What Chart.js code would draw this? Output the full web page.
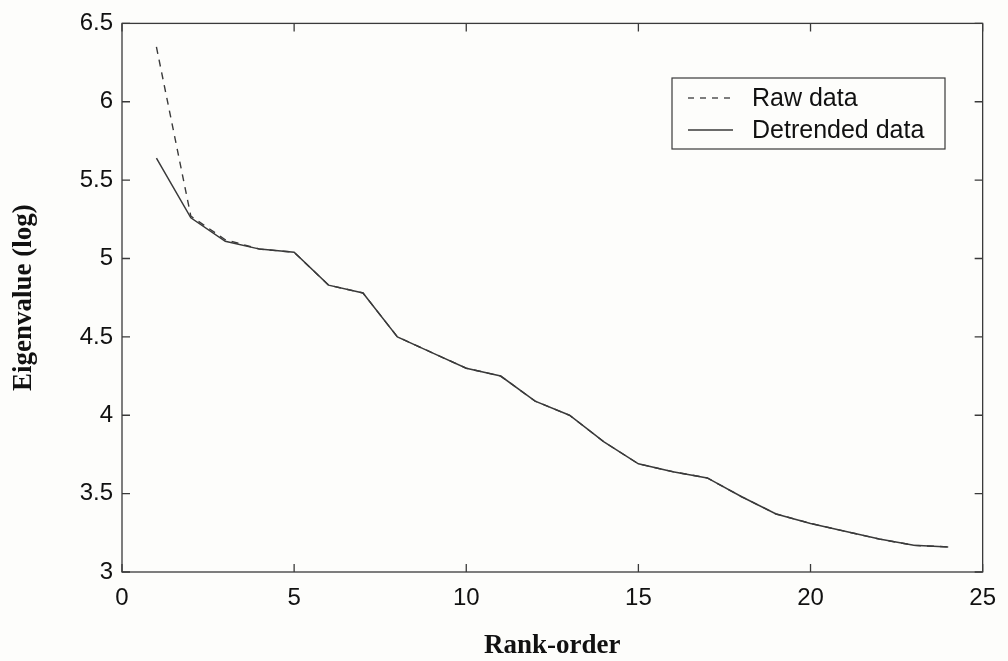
<!DOCTYPE html>
<html>
<head>
<meta charset="utf-8">
<script src="https://cdn.jsdelivr.net/npm/chart.js@4"></script>
<style>
  html, body { margin: 0; padding: 0; background: #fdfdfb; }
  #wrap { width: 1008px; height: 661px; }
</style>
</head>
<body>
<div id="wrap"><canvas id="eig"></canvas></div>
<script>
// eigenvalue spectrum, rank-ordered
const rank = [1, 2, 3, 4, 5, 6, 7, 8, 9, 10, 11, 12, 13, 14, 15, 16, 17, 18, 19, 20, 21, 22, 23, 24];
const rawData = [6.35, 5.27, 5.12, 5.06, 5.04, 4.83, 4.78, 4.50, 4.40, 4.30, 4.25, 4.09,
                 4.00, 3.83, 3.69, 3.64, 3.60, 3.48, 3.37, 3.31, 3.26, 3.21, 3.17, 3.16];
const detrendedData = [5.64, 5.26, 5.11, 5.06, 5.04, 4.83, 4.78, 4.50, 4.40, 4.30, 4.25, 4.09,
                       4.00, 3.83, 3.69, 3.64, 3.60, 3.48, 3.37, 3.31, 3.26, 3.21, 3.17, 3.16];
const xTicks = [0, 5, 10, 15, 20, 25];
const yTicks = [3, 3.5, 4, 4.5, 5, 5.5, 6, 6.5];
const seriesNames = ["Raw data", "Detrended data"];

const ink = "#3a3a3a";
const sans = "'Liberation Sans', Arial, sans-serif";
const toPoints = (ys) => rank.map((r, i) => ({ x: r, y: ys[i] }));

// box around the plot with inward ticks on all four sides, axis titles and legend
const frame = {
  id: "frame",
  afterDraw(chart) {
    const { ctx, chartArea: a, scales } = chart;
    const len = 8;
    ctx.save();
    ctx.strokeStyle = ink;
    ctx.lineWidth = 1.3;
    ctx.strokeRect(a.left, a.top, a.right - a.left, a.bottom - a.top);
    ctx.beginPath();
    xTicks.forEach((t) => {
      const px = scales.x.getPixelForValue(t);
      ctx.moveTo(px, a.bottom); ctx.lineTo(px, a.bottom - len);
      ctx.moveTo(px, a.top); ctx.lineTo(px, a.top + len);
    });
    yTicks.forEach((t) => {
      const py = scales.y.getPixelForValue(t);
      ctx.moveTo(a.left, py); ctx.lineTo(a.left + len, py);
      ctx.moveTo(a.right, py); ctx.lineTo(a.right - len, py);
    });
    ctx.stroke();

    // axis titles
    ctx.fillStyle = "#111";
    ctx.font = "bold 27px 'Liberation Serif', 'Times New Roman', serif";
    ctx.textAlign = "center";
    ctx.textBaseline = "middle";
    ctx.fillText("Rank-order", (a.left + a.right) / 2, 646);
    ctx.save();
    ctx.translate(24, (a.top + a.bottom) / 2);
    ctx.rotate(-Math.PI / 2);
    ctx.fillText("Eigenvalue (log)", 0, 0);
    ctx.restore();

    // legend box
    const bx = 672, by = 78, bw = 273, bh = 71;
    ctx.fillStyle = "#fdfdfb";
    ctx.fillRect(bx, by, bw, bh);
    ctx.lineWidth = 1.2;
    ctx.strokeRect(bx, by, bw, bh);
    const rows = [98, 130];
    ctx.font = "25px " + sans;
    ctx.textAlign = "left";
    ctx.fillStyle = "#111";
    seriesNames.forEach((name, i) => {
      ctx.beginPath();
      ctx.setLineDash(i === 0 ? [6, 6] : []);
      ctx.lineWidth = 1.3;
      ctx.moveTo(688, rows[i]);
      ctx.lineTo(733, rows[i]);
      ctx.stroke();
      ctx.fillText(name, 752, rows[i] + 1);
    });
    ctx.restore();
  }
};

new Chart(document.getElementById("eig"), {
  type: "line",
  data: {
    datasets: [
      {
        label: seriesNames[0],
        data: toPoints(rawData),
        borderColor: ink,
        borderWidth: 1.4,
        borderDash: [7, 6],
        pointRadius: 0,
        fill: false,
        tension: 0
      },
      {
        label: seriesNames[1],
        data: toPoints(detrendedData),
        borderColor: ink,
        borderWidth: 1.5,
        pointRadius: 0,
        fill: false,
        tension: 0
      }
    ]
  },
  options: {
    responsive: true,
    maintainAspectRatio: false,
    animation: false,
    layout: { padding: { top: 21, right: 20, left: 0, bottom: 0 } },
    plugins: {
      legend: { display: false },
      tooltip: { enabled: false }
    },
    scales: {
      x: {
        type: "linear",
        min: 0,
        max: 25,
        afterBuildTicks: (s) => { s.ticks = xTicks.map((v) => ({ value: v })); },
        afterFit: (s) => { s.height = 89; },
        grid: { display: false, drawTicks: false },
        border: { display: false },
        ticks: {
          color: "#111",
          padding: 12,
          maxRotation: 0,
          font: { family: sans, size: 24 },
          callback: (v) => String(v)
        }
      },
      y: {
        min: 3,
        max: 6.5,
        afterBuildTicks: (s) => { s.ticks = yTicks.map((v) => ({ value: v })); },
        afterFit: (s) => { s.width = 122; },
        grid: { display: false, drawTicks: false },
        border: { display: false },
        ticks: {
          color: "#111",
          padding: 9,
          font: { family: sans, size: 24 },
          callback: (v) => String(v)
        }
      }
    }
  },
  plugins: [frame]
});
</script>
</body>
</html>
